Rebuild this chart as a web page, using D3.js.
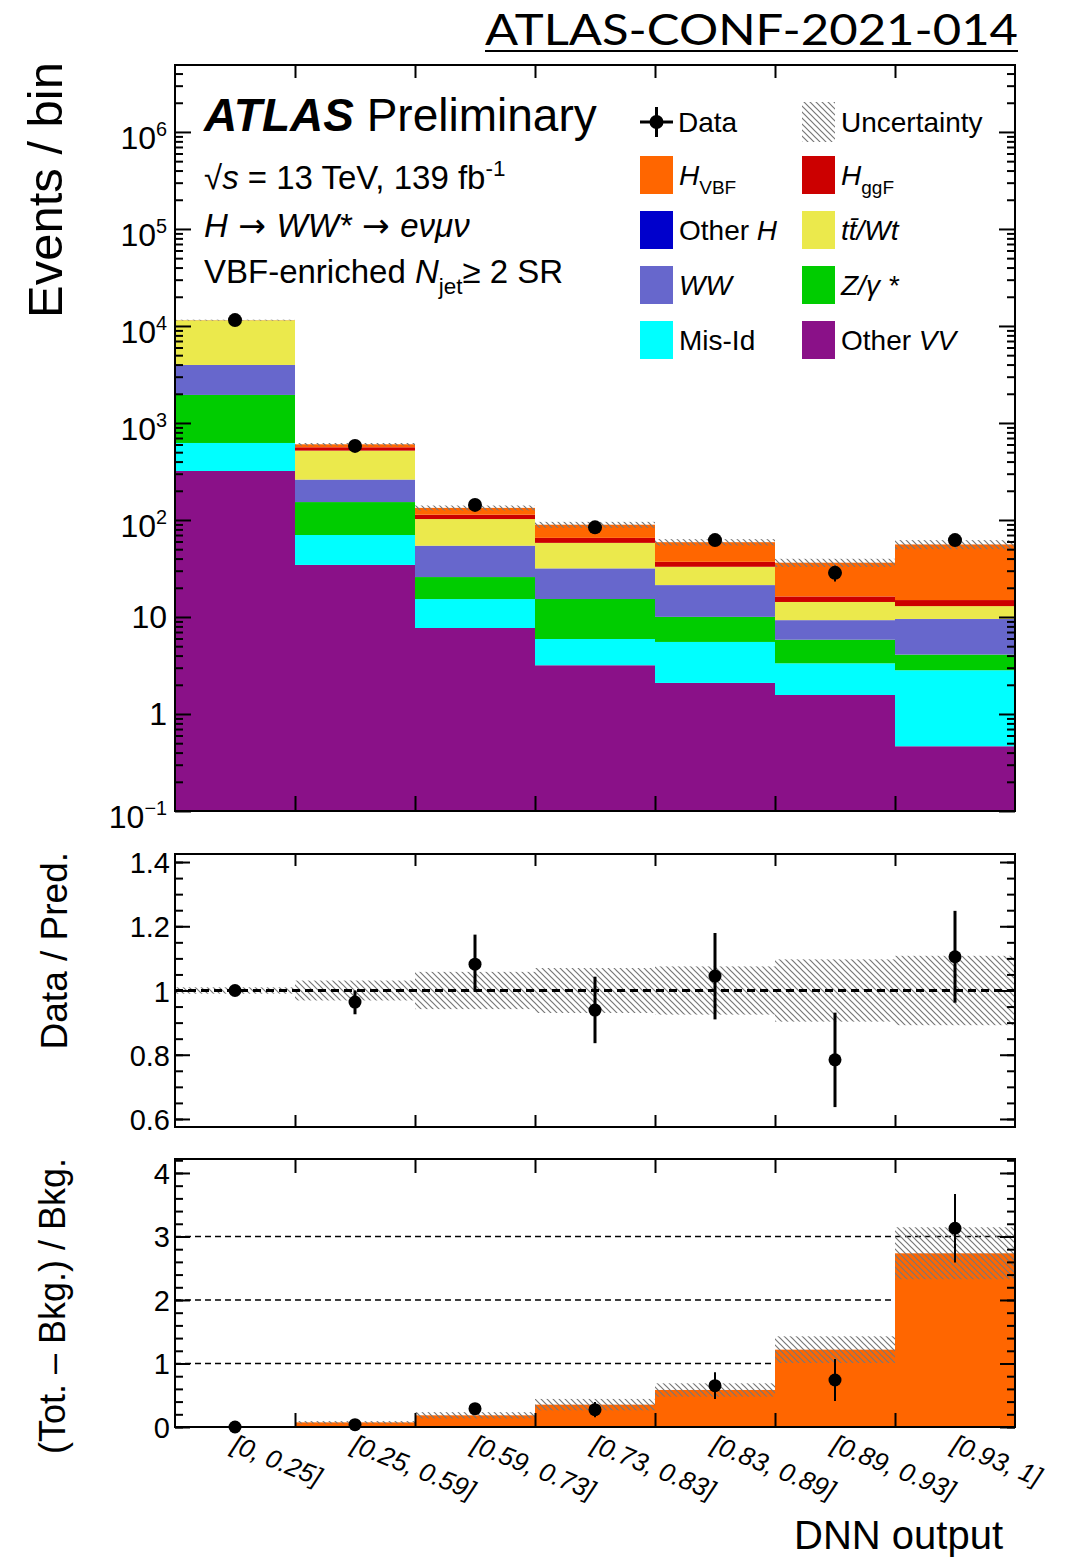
<!DOCTYPE html>
<html>
<head>
<meta charset="utf-8">
<title>ATLAS-CONF-2021-014 DNN output</title>
<script src="https://cdn.jsdelivr.net/npm/d3@7"></script>
<style>
  body { margin: 0; background: #fff; }
  svg { display: block; font-family: "Liberation Sans", Arial, Helvetica, sans-serif; }
</style>
</head>
<body>
<div id="chart"></div>
<script>
// bin labels (DNN output intervals)
var bins = ["[0, 0.25]", "[0.25, 0.59]", "[0.59, 0.73]", "[0.73, 0.83]", "[0.83, 0.89]", "[0.89, 0.93]", "[0.93, 1]"];

// stacked predictions, events per bin (bottom to top)
var otherVV = [320, 34.4, 7.7, 3.18, 2.09, 1.57, 0.465];
var misId   = [302, 35.6, 7.6, 2.75, 3.44, 1.76, 2.36];
var zgamma  = [1323, 83, 10.5, 9.4, 4.5, 2.5, 1.27];
var ww      = [2015, 107, 28.2, 16.2, 11.2, 3.4, 5.4];
var otherH  = [3, 0.8, 0.25, 0.15, 0.1, 0.05, 0.05];
var ttbar   = [7490, 258, 48, 26.4, 11.6, 5.0, 3.4];
var hggf    = [30, 43, 11, 7.3, 4.1, 2.0, 2.0];
var hvbf    = [8, 41, 20, 24, 22, 20, 41];

// data
var dataN   = [11500, 580, 143, 84, 62, 28.5, 62];
var dataErr = [107, 24, 12, 9.2, 7.9, 5.3, 7.9];

// relative uncertainty on total prediction
var uncRel = [0.01, 0.031, 0.058, 0.07, 0.075, 0.097, 0.108];

// Data / Pred.
var ratio     = [1.0, 0.964, 1.082, 0.939, 1.045, 0.784, 1.105];
var ratioUp   = [0.01, 0.036, 0.092, 0.104, 0.134, 0.147, 0.143];
var ratioDown = [0.01, 0.038, 0.086, 0.103, 0.135, 0.147, 0.143];

// (Tot. - Bkg.) / Bkg.
var sigPred = [0.001, 0.073, 0.184, 0.352, 0.583, 1.218, 2.735];
var sigUnc  = [0, 0.02, 0.05, 0.09, 0.105, 0.21, 0.41];
var sigData = [0.0, 0.037, 0.289, 0.273, 0.651, 0.74, 3.13];
var sigErr  = [0.02, 0.03, 0.05, 0.12, 0.21, 0.33, 0.54];

var W = 1066, H = 1561,
    x0 = 175, x1 = 1015,
    pTop = { t: 65, b: 811 },
    pMid = { t: 854, b: 1127 },
    pBot = { t: 1159, b: 1427 },
    font = '"Liberation Sans", Arial, Helvetica, sans-serif';

var layers = [
  { key: "otherVV", vals: otherVV, color: "#8a1188" },
  { key: "misId",   vals: misId,   color: "#00ffff" },
  { key: "zgamma",  vals: zgamma,  color: "#00cc00" },
  { key: "ww",      vals: ww,      color: "#6767cc" },
  { key: "otherH",  vals: otherH,  color: "#0000cc" },
  { key: "ttbar",   vals: ttbar,   color: "#ebe94c" },
  { key: "hggf",    vals: hggf,    color: "#cc0000" },
  { key: "hvbf",    vals: hvbf,    color: "#ff6600" }
];

var table = bins.map(function (b, i) {
  var row = { bin: i };
  layers.forEach(function (l) { row[l.key] = l.vals[i]; });
  return row;
});
var stacked = d3.stack().keys(layers.map(function (l) { return l.key; }))(table);
var totals = table.map(function (r) { return d3.sum(layers, function (l) { return r[l.key]; }); });

var x = d3.scaleLinear().domain([0, bins.length]).range([x0, x1]);
var yTop = d3.scaleLog().domain([0.1, 4.9e6]).range([pTop.b, pTop.t]);
var yMid = d3.scaleLinear().domain([0.575, 1.425]).range([pMid.b, pMid.t]);
var yBot = d3.scaleLinear().domain([0, 4.22]).range([pBot.b, pBot.t]);

var svg = d3.select("#chart").append("svg")
    .attr("width", W).attr("height", H)
    .style("font-family", font);

var defs = svg.append("defs");
defs.append("pattern")
    .attr("id", "hatch")
    .attr("patternUnits", "userSpaceOnUse")
    .attr("width", 6).attr("height", 6)
  .append("path")
    .attr("d", "M-1,-1L7,7M-1,5L1,7M5,-1L7,1")
    .attr("stroke", "#777").attr("stroke-width", 1.2);

// rich text helper: segments with italic / bold / sub / sup
function rich(sel, px, py, size, segs, anchor) {
  var t = sel.append("text")
      .attr("x", px).attr("y", py)
      .attr("font-size", size)
      .attr("text-anchor", anchor || "start");
  var shift = 0;
  segs.forEach(function (s) {
    var o = typeof s === "string" ? { t: s } : s;
    var want = o.sub ? size * 0.32 : (o.sup ? -size * 0.4 : 0);
    var ts = t.append("tspan").text(o.t).attr("dy", want - shift);
    shift = want;
    if (o.sub || o.sup) ts.attr("font-size", size * (o.small || 0.68));
    if (o.it) ts.attr("font-style", "italic");
    if (o.b) ts.attr("font-weight", "bold");
    if (o.ff) ts.attr("font-family", o.ff);
  });
  return t;
}

// ---------- top panel ----------
var gTop = svg.append("g");

gTop.selectAll("g.layer")
    .data(stacked)
  .enter().append("g")
    .attr("class", "layer")
    .attr("fill", function (d, i) { return layers[i].color; })
  .selectAll("rect")
    .data(function (d) { return d; })
  .enter().append("rect")
    .attr("x", function (d, i) { return x(i); })
    .attr("width", x(1) - x(0))
    .attr("y", function (d) { return yTop(d[1]); })
    .attr("height", function (d) { return yTop(Math.max(d[0], 0.1)) - yTop(d[1]); });

gTop.selectAll("rect.unc")
    .data(totals)
  .enter().append("rect")
    .attr("class", "unc")
    .attr("x", function (d, i) { return x(i); })
    .attr("width", x(1) - x(0))
    .attr("y", function (d, i) { return yTop(d * (1 + uncRel[i])); })
    .attr("height", function (d, i) { return yTop(d * (1 - uncRel[i])) - yTop(d * (1 + uncRel[i])); })
    .attr("fill", "url(#hatch)");

gTop.selectAll("line.err")
    .data(dataN)
  .enter().append("line")
    .attr("x1", function (d, i) { return x(i + 0.5); })
    .attr("x2", function (d, i) { return x(i + 0.5); })
    .attr("y1", function (d, i) { return yTop(d + dataErr[i]); })
    .attr("y2", function (d, i) { return yTop(d - dataErr[i]); })
    .attr("stroke", "#000").attr("stroke-width", 2);

gTop.selectAll("circle")
    .data(dataN)
  .enter().append("circle")
    .attr("cx", function (d, i) { return x(i + 0.5); })
    .attr("cy", function (d) { return yTop(d); })
    .attr("r", 7);

// ---------- ratio panel ----------
var gMid = svg.append("g");

gMid.selectAll("rect.unc")
    .data(uncRel)
  .enter().append("rect")
    .attr("x", function (d, i) { return x(i); })
    .attr("width", x(1) - x(0))
    .attr("y", function (d) { return yMid(1 + d); })
    .attr("height", function (d) { return yMid(1 - d) - yMid(1 + d); })
    .attr("fill", "url(#hatch)");

gMid.append("line")
    .attr("x1", x0).attr("x2", x1)
    .attr("y1", yMid(1)).attr("y2", yMid(1))
    .attr("stroke", "#000").attr("stroke-width", 3)
    .attr("stroke-dasharray", "8,5");

gMid.selectAll("line.err")
    .data(ratio)
  .enter().append("line")
    .attr("x1", function (d, i) { return x(i + 0.5); })
    .attr("x2", function (d, i) { return x(i + 0.5); })
    .attr("y1", function (d, i) { return yMid(d + ratioUp[i]); })
    .attr("y2", function (d, i) { return yMid(d - ratioDown[i]); })
    .attr("stroke", "#000").attr("stroke-width", 3);

gMid.selectAll("circle")
    .data(ratio)
  .enter().append("circle")
    .attr("cx", function (d, i) { return x(i + 0.5); })
    .attr("cy", function (d) { return yMid(d); })
    .attr("r", 6.5);

// ---------- bottom panel ----------
var gBot = svg.append("g");

gBot.selectAll("line.grid")
    .data([1, 2, 3])
  .enter().append("line")
    .attr("x1", x0).attr("x2", x1)
    .attr("y1", function (d) { return yBot(d); })
    .attr("y2", function (d) { return yBot(d); })
    .attr("stroke", "#000").attr("stroke-width", 1.5)
    .attr("stroke-dasharray", "6,4");

gBot.selectAll("rect.sig")
    .data(sigPred)
  .enter().append("rect")
    .attr("x", function (d, i) { return x(i); })
    .attr("width", x(1) - x(0))
    .attr("y", function (d) { return yBot(d); })
    .attr("height", function (d) { return yBot(0) - yBot(d); })
    .attr("fill", "#ff6600");

gBot.selectAll("rect.unc")
    .data(sigPred)
  .enter().append("rect")
    .attr("x", function (d, i) { return x(i); })
    .attr("width", x(1) - x(0))
    .attr("y", function (d, i) { return yBot(d + sigUnc[i]); })
    .attr("height", function (d, i) { return yBot(d - sigUnc[i]) - yBot(d + sigUnc[i]); })
    .attr("fill", "url(#hatch)");

gBot.selectAll("line.err")
    .data(sigData)
  .enter().append("line")
    .attr("x1", function (d, i) { return x(i + 0.5); })
    .attr("x2", function (d, i) { return x(i + 0.5); })
    .attr("y1", function (d, i) { return yBot(d + sigErr[i]); })
    .attr("y2", function (d, i) { return yBot(Math.max(d - sigErr[i], 0)); })
    .attr("stroke", "#000").attr("stroke-width", 2);

gBot.selectAll("circle")
    .data(sigData)
  .enter().append("circle")
    .attr("cx", function (d, i) { return x(i + 0.5); })
    .attr("cy", function (d) { return yBot(d); })
    .attr("r", 6.5);

// ---------- axes, ticks, frames ----------
function ticks(g, axis, tx, ty, size, vals) {
  var a = g.append("g")
      .attr("transform", "translate(" + tx + "," + ty + ")")
      .call(axis.tickValues(vals).tickSize(-size).tickFormat(""));
  a.select(".domain").remove();
  a.selectAll("line").attr("stroke", "#000").attr("stroke-width", 2);
}

var xEdges = d3.range(1, bins.length);
var gAx = svg.append("g");

// top panel
var logMajor = d3.range(-1, 7).map(function (k) { return Math.pow(10, k); });
var logMinor = [];
d3.range(-1, 7).forEach(function (k) {
  d3.range(2, 10).forEach(function (m) {
    var v = m * Math.pow(10, k);
    if (v < 4.9e6) logMinor.push(v);
  });
});
ticks(gAx, d3.axisLeft(yTop), x0, 0, 16, logMajor);
ticks(gAx, d3.axisLeft(yTop), x0, 0, 8, logMinor);
ticks(gAx, d3.axisRight(yTop), x1, 0, 16, logMajor);
ticks(gAx, d3.axisRight(yTop), x1, 0, 8, logMinor);
ticks(gAx, d3.axisBottom(x), 0, pTop.b, 15, xEdges);
ticks(gAx, d3.axisTop(x), 0, pTop.t, 13, xEdges);

// ratio panel
var midMajor = [0.6, 0.8, 1.0, 1.2, 1.4];
var midMinor = d3.range(12, 29).map(function (k) { return k * 0.05; });
ticks(gAx, d3.axisLeft(yMid), x0, 0, 15, midMajor);
ticks(gAx, d3.axisLeft(yMid), x0, 0, 8, midMinor);
ticks(gAx, d3.axisRight(yMid), x1, 0, 15, midMajor);
ticks(gAx, d3.axisRight(yMid), x1, 0, 8, midMinor);
ticks(gAx, d3.axisBottom(x), 0, pMid.b, 12, xEdges);
ticks(gAx, d3.axisTop(x), 0, pMid.t, 12, xEdges);

// bottom panel
var botMajor = [0, 1, 2, 3, 4];
var botMinor = d3.range(0, 22).map(function (k) { return k * 0.2; });
ticks(gAx, d3.axisLeft(yBot), x0, 0, 15, botMajor);
ticks(gAx, d3.axisLeft(yBot), x0, 0, 8, botMinor);
ticks(gAx, d3.axisRight(yBot), x1, 0, 15, botMajor);
ticks(gAx, d3.axisRight(yBot), x1, 0, 8, botMinor);
ticks(gAx, d3.axisBottom(x), 0, pBot.b, 14, xEdges);
ticks(gAx, d3.axisTop(x), 0, pBot.t, 14, xEdges);

[pTop, pMid, pBot].forEach(function (p) {
  gAx.append("rect")
      .attr("x", x0).attr("y", p.t)
      .attr("width", x1 - x0).attr("height", p.b - p.t)
      .attr("fill", "none").attr("stroke", "#000").attr("stroke-width", 2);
});

// ---------- tick labels ----------
var gLab = svg.append("g");
d3.range(-1, 7).forEach(function (k) {
  var yy = yTop(Math.pow(10, k));
  if (k === 0) rich(gLab, 167, yy + 11, 32, ["1"], "end");
  else if (k === 1) rich(gLab, 167, yy + 11, 32, ["10"], "end");
  else rich(gLab, 167, yy + 17, 32, ["10", { t: k < 0 ? "\u2212" + (-k) : String(k), sup: true, small: 0.62 }], "end");
});
midMajor.forEach(function (v) {
  gLab.append("text").attr("x", 170).attr("y", yMid(v) + 11)
      .attr("font-size", 29).attr("text-anchor", "end")
      .text(v === 1 ? "1" : d3.format(".1f")(v));
});
botMajor.forEach(function (v) {
  gLab.append("text").attr("x", 170).attr("y", yBot(v) + 11)
      .attr("font-size", 29).attr("text-anchor", "end")
      .text(v);
});

// rotated bin labels
bins.forEach(function (b, i) {
  gLab.append("text")
      .attr("transform", "translate(" + (x(i + 0.5) - 5) + ",1451) rotate(22)")
      .attr("font-size", 26)
      .attr("font-style", "italic")
      .text(b);
});

// axis titles
gLab.append("text")
    .attr("transform", "translate(62,62) rotate(-90)")
    .attr("font-size", 49).attr("text-anchor", "end")
    .text("Events / bin");
gLab.append("text")
    .attr("transform", "translate(67,852) rotate(-90)")
    .attr("font-size", 37).attr("text-anchor", "end")
    .text("Data / Pred.");
gLab.append("text")
    .attr("transform", "translate(65,1158) rotate(-90)")
    .attr("font-size", 36).attr("text-anchor", "end")
    .text("(Tot. \u2013 Bkg.) / Bkg.");
gLab.append("text")
    .attr("x", 1003).attr("y", 1549)
    .attr("font-size", 40).attr("text-anchor", "end")
    .text("DNN output");

// conference note header
gLab.append("text")
    .attr("x", 1018).attr("y", 45)
    .attr("font-family", "Lato, 'Open Sans', sans-serif")
    .attr("font-size", 42).attr("text-anchor", "end")
    .attr("textLength", 533).attr("lengthAdjust", "spacingAndGlyphs")
    .text("ATLAS-CONF-2021-014");
gLab.append("line")
    .attr("x1", 485).attr("x2", 1018).attr("y1", 51).attr("y2", 51)
    .attr("stroke", "#000").attr("stroke-width", 2);

// ---------- labels inside top panel ----------
var gTxt = svg.append("g");
var arrowFont = "'DejaVu Sans', sans-serif";
rich(gTxt, 204, 131, 46, [{ t: "ATLAS", b: true, it: true }, { t: " Preliminary" }]);
rich(gTxt, 204, 189, 33, ["\u221A", { t: "s", it: true }, " = 13 TeV, 139 fb", { t: "-1", sup: true }]);
rich(gTxt, 204, 237, 33, [{ t: "H", it: true }, { t: " \u2192 ", ff: arrowFont }, { t: "WW*", it: true }, { t: " \u2192 ", ff: arrowFont }, { t: "e\u03BD\u03BC\u03BD", it: true }]);
rich(gTxt, 204, 283, 33, ["VBF-enriched ", { t: "N", it: true }, { t: "jet", sub: true }, { t: "\u2265 2 SR" }]);

// ---------- legend ----------
var gLeg = svg.append("g");
var colX = [640, 802], rowY = [122, 175, 230, 285, 340], boxW = 33, boxH = 38, legSize = 28;

// data entry
gLeg.append("line").attr("x1", colX[0]).attr("x2", colX[0] + boxW)
    .attr("y1", rowY[0]).attr("y2", rowY[0]).attr("stroke", "#000").attr("stroke-width", 3);
gLeg.append("line").attr("x1", colX[0] + boxW / 2).attr("x2", colX[0] + boxW / 2)
    .attr("y1", rowY[0] - 15).attr("y2", rowY[0] + 15).attr("stroke", "#000").attr("stroke-width", 3);
gLeg.append("circle").attr("cx", colX[0] + boxW / 2).attr("cy", rowY[0]).attr("r", 7);
rich(gLeg, colX[0] + 38, rowY[0] + 10, legSize, ["Data"]);

// uncertainty entry
gLeg.append("rect").attr("x", colX[1]).attr("y", rowY[0] - 20)
    .attr("width", boxW).attr("height", 40).attr("fill", "url(#hatch)");
rich(gLeg, colX[1] + 39, rowY[0] + 10, legSize, ["Uncertainty"]);

var legItems = [
  { col: 0, row: 1, color: "#ff6600", segs: [{ t: "H", it: true }, { t: "VBF", sub: true }] },
  { col: 1, row: 1, color: "#cc0000", segs: [{ t: "H", it: true }, { t: "ggF", sub: true }] },
  { col: 0, row: 2, color: "#0000cc", segs: ["Other ", { t: "H", it: true }] },
  { col: 1, row: 2, color: "#ebe94c", segs: [{ t: "tt\u0304/Wt", it: true }] },
  { col: 0, row: 3, color: "#6767cc", segs: [{ t: "WW", it: true }] },
  { col: 1, row: 3, color: "#00cc00", segs: [{ t: "Z/\u03B3 *", it: true }] },
  { col: 0, row: 4, color: "#00ffff", segs: ["Mis-Id"] },
  { col: 1, row: 4, color: "#8a1188", segs: ["Other ", { t: "VV", it: true }] }
];
legItems.forEach(function (d) {
  gLeg.append("rect")
      .attr("x", colX[d.col]).attr("y", rowY[d.row] - boxH / 2)
      .attr("width", boxW).attr("height", boxH)
      .attr("fill", d.color);
  rich(gLeg, colX[d.col] + 39, rowY[d.row] + 10, legSize, d.segs);
});
</script>
</body>
</html>
